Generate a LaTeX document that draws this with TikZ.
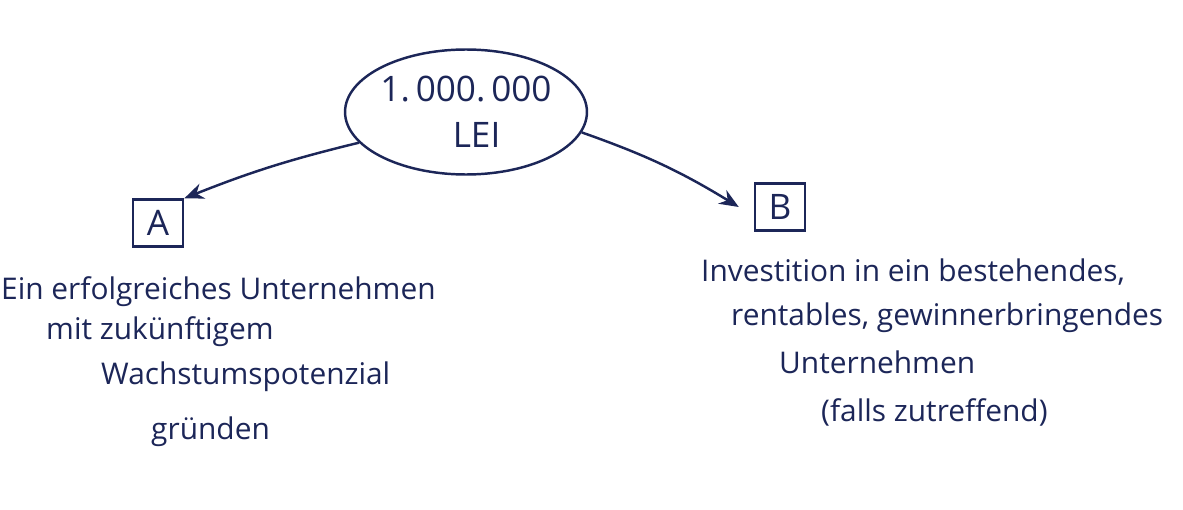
\documentclass[tikz,border=0pt]{standalone}
\usepackage{fontspec}
\setmainfont{Open Sans}
\usepackage{tikz}
\usetikzlibrary{shapes.geometric,arrows.meta}
\definecolor{ink}{RGB}{28,38,88}
\tikzstyle{money}=[ellipse, draw, inner xsep=0pt, inner ysep=2pt, minimum width=4.7cm, minimum height=2.5cm, align=center, font=\fontsize{20}{26}\selectfont]
\tikzstyle{letter}=[draw, minimum width=1cm, minimum height=0.94cm, font=\fontsize{20}{24}\selectfont]
\tikzstyle{words}=[anchor=west, inner sep=0pt, font=\fontsize{17}{20}\selectfont]

\begin{document}
\begin{tikzpicture}[x=0.02cm, y=-0.02cm, ink, line width=1.4pt, >={Stealth[length=11pt,width=9pt]}]
    \useasboundingbox (0, 0) rectangle (1183, 510);
    \node[money]  (sum) at (466, 112) {1.\,000.\,000\\ \hspace*{0.6em}LEI};
    \node[letter] (A)   at (158, 223) {A};
    \node[letter] (B)   at (780, 207) {B};
    \draw[->]  (sum.196) to[bend right=4] ([shift={(0.1,0.05)}]A.north east);
    \draw[->]  (sum.-10) to[bend left=6] ([xshift=-0.3cm]B.west);
    \node[words] (a1) at (0, 292)   {Ein erfolgreiches Unternehmen};
    \node[words] (a2) at (45, 332)  {mit zukünftigem};
    \node[words] (a3) at (100, 377) {Wachstumspotenzial};
    \node[words] (a4) at (150, 432) {gründen};
    \node[words] (b1) at (700, 272) {Investition in ein bestehendes,};
    \node[words] (b2) at (730, 318) {rentables, gewinnerbringendes};
    \node[words] (b3) at (778, 362) {Unternehmen};
    \node[words] (b4) at (820, 412) {(falls zutreffend)};
\end{tikzpicture}
\end{document}
